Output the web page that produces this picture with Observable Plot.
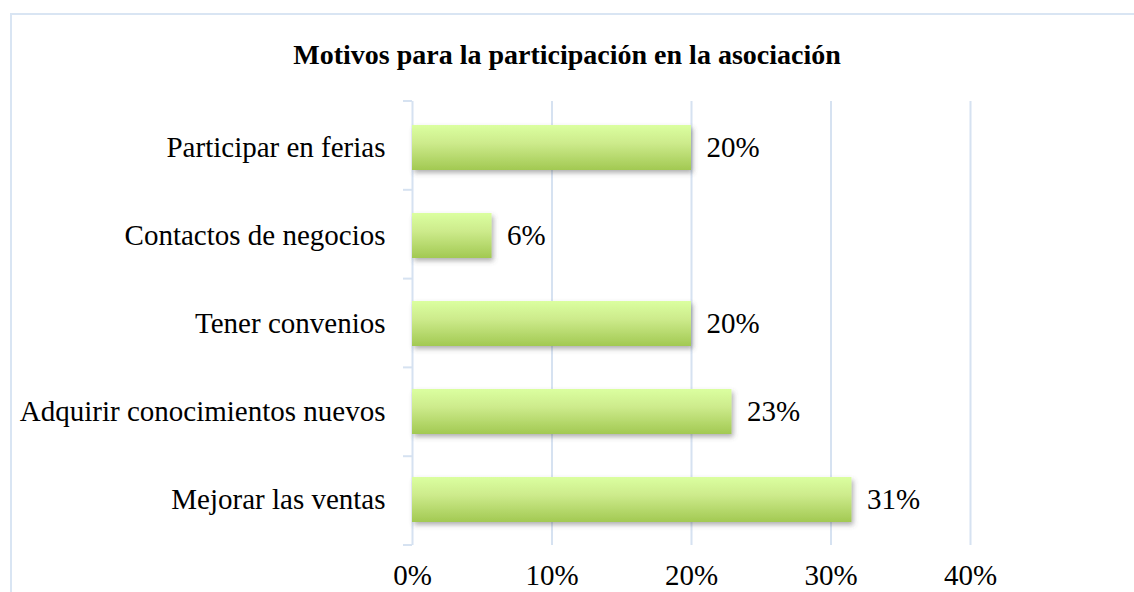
<!DOCTYPE html>
<html>
<head>
<meta charset="utf-8">
<script src="https://cdn.jsdelivr.net/npm/d3@7"></script>
<script src="https://cdn.jsdelivr.net/npm/@observablehq/plot@0.6"></script>
<style>
  html, body { margin: 0; padding: 0; background: #fff; overflow: hidden; }
  #wrap { position: relative; width: 1134px; height: 592px; }
  #frame { position: absolute; left: 10px; top: 13px; width: 1200px; height: 700px; border: 2px solid #d9e5f3; box-sizing: border-box; }
  #title { position: absolute; left: 0; top: 39px; width: 1134px; text-align: center; font: bold 28px "Liberation Serif", "Times New Roman", serif; line-height: 32px; color: #000; }
  #chart { position: absolute; left: 0; top: 0; }
</style>
</head>
<body>
<div id="wrap">
  <div id="frame"></div>
  <div id="chart"></div>
  <div id="title">Motivos para la participación en la asociación</div>
</div>
<script>
const categories = ["Participar en ferias", "Contactos de negocios", "Tener convenios", "Adquirir conocimientos nuevos", "Mejorar las ventas"];
const values = [0.20, 0.057, 0.20, 0.229, 0.315];
const valueLabels = ["20%", "6%", "20%", "23%", "31%"];
const xTicks = [0, 0.1, 0.2, 0.3, 0.4];
const xTickLabels = ["0%", "10%", "20%", "30%", "40%"];

const data = categories.map((c, i) => ({category: c, value: values[i], label: valueLabels[i]}));
const gridColor = "#d6e2f1";
const fontSize = 29;

const plot = Plot.plot({
  width: 1134,
  height: 592,
  marginLeft: 412,
  marginRight: 164,
  marginTop: 101,
  marginBottom: 47,
  style: {fontFamily: "'Liberation Serif', 'Times New Roman', serif", fontSize: fontSize + "px", color: "#000", background: "transparent"},
  x: {domain: [0, 0.4], axis: null},
  y: {domain: categories, paddingInner: 0.49, paddingOuter: 0.245, axis: null},
  marks: [
    Plot.ruleX(xTicks, {stroke: gridColor, strokeWidth: 2}),
    Plot.barX(data, {x: "value", y: "category", fill: "url(#barGrad)"}),
    Plot.text(data, {x: "value", y: "category", text: "label", textAnchor: "start", dx: 15, fontSize, fill: "#000"}),
    Plot.axisY({tickSize: 0, tickPadding: 27, fontSize, label: null}),
    Plot.axisX(xTicks, {tickSize: 0, tickPadding: 19, fontSize, label: null, tickFormat: (d) => xTickLabels[xTicks.indexOf(d)]})
  ]
});

const svg = d3.select(plot);
const defs = svg.insert("defs", ":first-child");
const grad = defs.append("linearGradient").attr("id", "barGrad").attr("x1", 0).attr("y1", 0).attr("x2", 0).attr("y2", 1);
grad.append("stop").attr("offset", "0%").attr("stop-color", "#dbffa0");
grad.append("stop").attr("offset", "40%").attr("stop-color", "#cdeb8c");
grad.append("stop").attr("offset", "100%").attr("stop-color", "#a2c952");
const filt = defs.append("filter").attr("id", "shadow").attr("x", "-10%").attr("y", "-20%").attr("width", "130%").attr("height", "160%");
filt.append("feDropShadow").attr("dx", 2).attr("dy", 3).attr("stdDeviation", 2.5).attr("flood-color", "#555").attr("flood-opacity", 0.45);
svg.selectAll("rect").attr("filter", "url(#shadow)");

// left axis line with boundary ticks, derived from the band scale
const ys = plot.scale("y");
const xs = plot.scale("x");
const step = (ys.range[1] - ys.range[0]) / categories.length;
const x0 = xs.apply(0);
const g = svg.append("g").attr("stroke", gridColor).attr("stroke-width", 2);
for (let i = 0; i <= categories.length; i++) {
  const y = ys.range[0] + i * step;
  g.append("line").attr("x1", x0 - 9).attr("x2", x0).attr("y1", y).attr("y2", y);
}

document.getElementById("chart").appendChild(plot);
</script>
</body>
</html>
